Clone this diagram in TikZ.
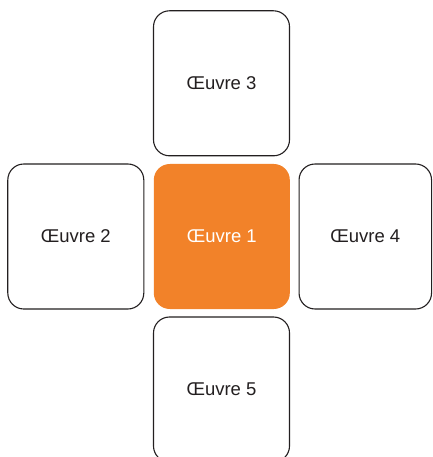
\documentclass[tikz,border=0pt]{standalone}
\usepackage{fontspec}
\setmainfont{Liberation Sans}
\definecolor{boxorange}{RGB}{242,130,41}
\definecolor{boxline}{RGB}{35,31,32}
\begin{document}
\begin{tikzpicture}[x=1bp,y=-1bp,
  oeuvre/.style={draw=boxline,line width=1.1bp,rounded corners=16bp,
    minimum width=136bp,minimum height=145bp,inner sep=0pt,
    font=\fontsize{18.5bp}{21bp}\selectfont,text=boxline,fill=white},
  oeuvrecenter/.style={oeuvre,draw=none,fill=boxorange,text=white}]
\useasboundingbox (0,0) rectangle (432,457);
\node[oeuvre] (o3) at (221.5,83.3) {Œuvre 3};
\node[oeuvre] (o2) at (75.8,236.5) {Œuvre 2};
\node[oeuvrecenter] (o1) at (221.8,236.5) {Œuvre 1};
\node[oeuvre,minimum width=132.5bp] (o4) at (365.3,236.5) {Œuvre 4};
\node[oeuvre] (o5) at (221.5,389.5) {Œuvre 5};
\end{tikzpicture}
\end{document}
